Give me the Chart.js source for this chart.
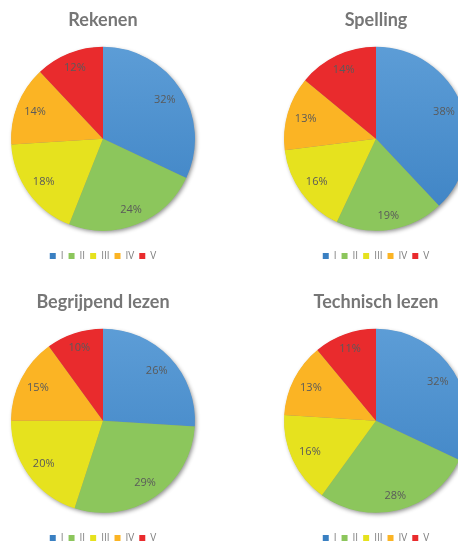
<!DOCTYPE html>
<html>
<head>
<meta charset="utf-8">
<script src="https://cdn.jsdelivr.net/npm/chart.js@4/dist/chart.umd.min.js"></script>
<style>
  html, body { margin: 0; padding: 0; background: #ffffff; overflow: hidden; width: 458px; height: 542px; }
  .cell { position: absolute; width: 206px; height: 271px; }
</style>
</head>
<body>
<div class="cell" style="left:0px;top:0px;"><canvas id="c0"></canvas></div>
<div class="cell" style="left:273px;top:0px;"><canvas id="c1"></canvas></div>
<div class="cell" style="left:0px;top:282px;"><canvas id="c2"></canvas></div>
<div class="cell" style="left:273px;top:282px;"><canvas id="c3"></canvas></div>
<script>
const categories = ['I', 'II', 'III', 'IV', 'V'];
const titles = ['Rekenen', 'Spelling', 'Begrijpend lezen', 'Technisch lezen'];
const rekenen = [32, 24, 18, 14, 12];
const spelling = [38, 19, 16, 13, 14];
const begrijpendLezen = [26, 29, 20, 15, 10];
const technischLezen = [32, 28, 16, 13, 11];
const seriesList = [rekenen, spelling, begrijpendLezen, technischLezen];

const sliceColors = ['#4a90d0', '#8cc65c', '#e6e21e', '#fbb424', '#e92b2d'];

function blueGradient(ctx) {
  const chart = ctx.chart;
  const a = chart.chartArea;
  if (!a) return sliceColors[0];
  const g = chart.ctx.createLinearGradient(0, a.top, 0, a.bottom);
  g.addColorStop(0, '#5f9fd8');
  g.addColorStop(1, '#3a80c2');
  return g;
}

const shadowPlugin = {
  id: 'pieShadow',
  beforeDatasetsDraw(chart) {
    const arcs = chart.getDatasetMeta(0).data;
    if (!arcs.length) return;
    const p = arcs[0].getProps(['x', 'y', 'outerRadius'], true);
    const ctx = chart.ctx;
    ctx.save();
    ctx.shadowColor = 'rgba(0,0,0,0.45)';
    ctx.shadowBlur = 4;
    ctx.shadowOffsetX = 1.5;
    ctx.shadowOffsetY = 2;
    ctx.beginPath();
    ctx.arc(p.x, p.y, p.outerRadius - 0.5, 0, Math.PI * 2);
    ctx.fillStyle = '#888888';
    ctx.fill();
    ctx.restore();
  }
};

const labelPlugin = {
  id: 'pctLabels',
  afterDatasetsDraw(chart) {
    const ctx = chart.ctx;
    const data = chart.data.datasets[0].data;
    ctx.save();
    ctx.font = '11px "Open Sans", sans-serif';
    ctx.fillStyle = '#5a5a5a';
    ctx.textAlign = 'center';
    ctx.textBaseline = 'middle';
    chart.getDatasetMeta(0).data.forEach((arc, i) => {
      const p = arc.getProps(['x', 'y', 'startAngle', 'endAngle', 'outerRadius'], true);
      const mid = (p.startAngle + p.endAngle) / 2;
      const txt = data[i] + '%';
      const w = ctx.measureText(txt).width;
      const h = 10;
      const c = Math.cos(mid), s = Math.sin(mid);
      const ext = Math.abs(c) * w / 2 + Math.abs(s) * h / 2;
      const d = p.outerRadius - 7 - ext;
      ctx.fillText(txt, p.x + c * d, p.y + s * d);
    });
    ctx.restore();
  }
};

seriesList.forEach((values, idx) => {
  new Chart(document.getElementById('c' + idx), {
    type: 'pie',
    data: {
      labels: categories,
      datasets: [{
        data: values,
        backgroundColor: (ctx) => ctx.dataIndex === 0 ? blueGradient(ctx) : sliceColors[ctx.dataIndex],
        borderWidth: 0,
        radius: 92
      }]
    },
    options: {
      responsive: true,
      maintainAspectRatio: false,
      animation: false,
      layout: { padding: { left: 0, right: 0, top: 0, bottom: 0 } },
      plugins: {
        tooltip: { enabled: false },
        title: {
          display: true,
          text: titles[idx],
          color: '#767676',
          font: { family: 'Lato, "Open Sans", sans-serif', size: 18, weight: 'bold', lineHeight: 1.2 },
          padding: { top: 9, bottom: 1 }
        },
        legend: {
          display: true,
          position: 'bottom',
          labels: {
            boxWidth: 6,
            boxHeight: 6,
            padding: 5,
            color: '#7f7f7f',
            font: { family: '"Open Sans", sans-serif', size: 10, lineHeight: 1.2 }
          }
        }
      }
    },
    plugins: [shadowPlugin, labelPlugin]
  });
});
</script>
</body>
</html>
